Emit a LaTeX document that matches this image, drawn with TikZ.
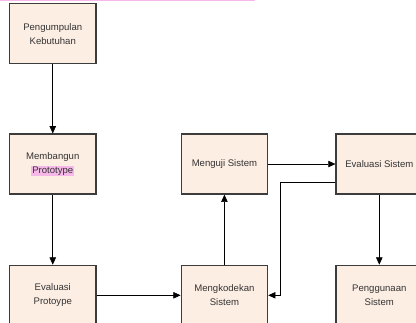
\documentclass[tikz,border=0pt]{standalone}
\usepackage{fontspec}
\setmainfont{Liberation Sans}
\usetikzlibrary{positioning,arrows.meta,calc}
\definecolor{peach}{RGB}{253,238,228}
\definecolor{edgegray}{RGB}{60,60,60}
\definecolor{protopink}{RGB}{246,184,232}
\tikzset{
  >={Triangle[length=0.18cm,width=0.16cm]},
  line width  = 0.7pt,
  box/.style={
    draw            = edgegray,
    fill            = peach,
    line width      = 0.9pt,
    minimum width   = 2.16cm,
    minimum height  = 1.5cm,
    inner sep       = 1pt,
    text            = black!80,
    font            = \fontsize{6.8}{10}\selectfont,
    align           = center}
}
\newcommand\protohl[1]{{\setlength{\fboxsep}{0.6pt}\colorbox{protopink}{#1}}}

\begin{document}
\begin{tikzpicture}
\useasboundingbox (0,0) rectangle (10.4,-8.05);

% strip of highlight cut at the top
\fill[protopink] (0,0) rectangle (6.375,-0.035);

\node[box] (kebutuhan) at (1.319,-0.844) {Pengumpulan\\Kebutuhan};
\node[box, below = 1.725cm of kebutuhan] (prototipe)
      {Membangun\\\protohl{Prototype}};
\node[box, below = 1.75cm of prototipe] (evalproto)
      {Evaluasi\\Protoype};

\node[box, right = 2.1cm of prototipe] (menguji) {Menguji Sistem};
\node[box, right = 1.68cm of menguji] (evalsistem) {Evaluasi Sistem};

\node[box, right = 2.1cm of evalproto] (kode) {Mengkodekan\\Sistem};
\node[box, right = 1.68cm of kode] (guna) {Penggunaan\\Sistem};

\draw[->] (kebutuhan) -- (prototipe);
\draw[->] (prototipe) -- (evalproto);
\draw[->] (evalproto) -- (kode);
\draw[->] (kode) -- (menguji);
\draw[->] (menguji) -- (evalsistem);
\draw[->] (evalsistem) -- (guna);

\draw[->] ([yshift=-0.45cm]evalsistem.west)
  -| ([xshift=0.31cm]kode.east) -- (kode.east);

\end{tikzpicture}
\end{document}
